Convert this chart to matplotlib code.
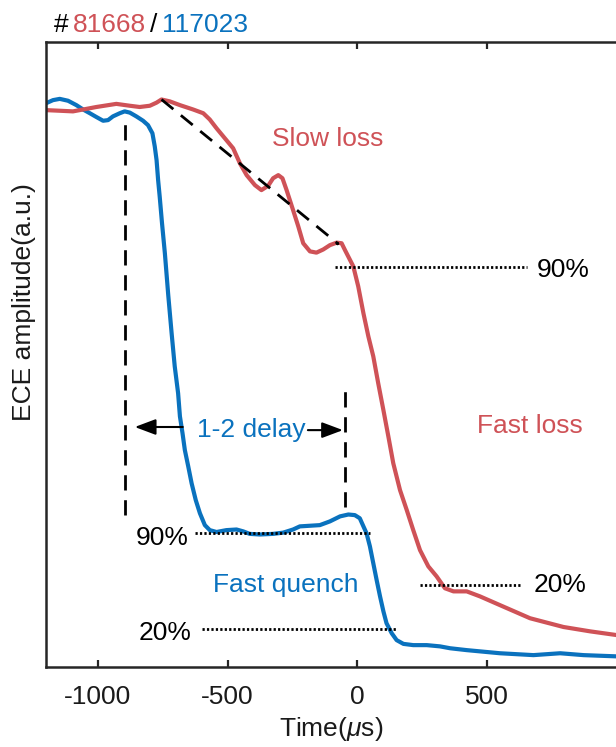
import numpy as np
import matplotlib
matplotlib.use('Agg')
import matplotlib.pyplot as plt

plt.rcParams['font.family'] = ['Liberation Sans', 'DejaVu Sans']
plt.rcParams['mathtext.fontset'] = 'custom'
plt.rcParams['mathtext.rm'] = 'Liberation Sans'
plt.rcParams['mathtext.it'] = 'Liberation Sans:italic'
plt.rcParams['axes.unicode_minus'] = False

RED = '#CF5257'
BLUE = '#0A72BE'
AX_COLOR = '#262626'
FS = 19

# shot 81668 (slow loss then fast loss)
t_red = [-1200, -1147, -1096, -1057, -1006, -929, -877, -839, -800, -774, -755,
         -723, -684, -633, -594, -569, -543, -505, -479, -453, -427, -395,
         -370, -344, -325, -305, -289, -273, -248, -228, -209, -183, -158,
         -132, -106, -80, -61, -48, -16, 3, 23, 42, 61, 80, 100, 119, 138,
         164, 190, 215, 241, 273, 305, 337, 370, 421, 472, 549, 665, 794,
         897, 1000]
v_red = [0.891, 0.890, 0.889, 0.892, 0.896, 0.901, 0.898, 0.896, 0.898, 0.903,
         0.908, 0.905, 0.899, 0.892, 0.886, 0.876, 0.862, 0.843, 0.830, 0.806,
         0.787, 0.771, 0.763, 0.770, 0.782, 0.787, 0.782, 0.763, 0.731, 0.705,
         0.678, 0.665, 0.663, 0.668, 0.675, 0.679, 0.678, 0.667, 0.641, 0.609,
         0.566, 0.529, 0.497, 0.454, 0.411, 0.369, 0.326, 0.283, 0.251, 0.219,
         0.187, 0.161, 0.145, 0.126, 0.121, 0.121, 0.113, 0.099, 0.078, 0.064,
         0.057, 0.051]

# shot 117023 (fast quench)
t_blue = [-1200, -1173, -1147, -1115, -1083, -1057, -1031, -1006, -980, -961,
          -942, -916, -897, -877, -852, -826, -807, -790, -781, -774, -768,
          -762, -753, -742, -729, -716, -704, -691, -684, -674, -665, -652,
          -639, -623, -607, -588, -569, -543, -505, -466, -440, -415, -376,
          -325, -286, -248, -222, -183, -145, -106, -67, -35, -10, 9, 23, 35,
          48, 61, 74, 87, 100, 112, 132, 151, 177, 215, 267, 318, 357, 421,
          549, 678, 781, 871, 1000]
v_blue = [0.902, 0.907, 0.909, 0.906, 0.899, 0.892, 0.886, 0.880, 0.874, 0.875,
          0.881, 0.886, 0.889, 0.887, 0.881, 0.874, 0.867, 0.854, 0.833, 0.811,
          0.779, 0.753, 0.710, 0.662, 0.595, 0.534, 0.481, 0.438, 0.401, 0.374,
          0.347, 0.321, 0.294, 0.267, 0.246, 0.227, 0.219, 0.216, 0.219, 0.220,
          0.217, 0.213, 0.212, 0.213, 0.215, 0.220, 0.225, 0.226, 0.227, 0.233,
          0.241, 0.244, 0.243, 0.238, 0.225, 0.214, 0.193, 0.166, 0.139, 0.113,
          0.089, 0.070, 0.054, 0.043, 0.037, 0.035, 0.035, 0.033, 0.030, 0.027,
          0.022, 0.019, 0.022, 0.019, 0.017]

x_ticks = [-1000, -500, 0, 500]

# slow-loss trend: from the pre-loss peak to the knee before the fast loss
slow_t = [-755, -80]
slow_v = [0.908, 0.679]

# 90% / 20% levels: (t_start, t_end, level)
red_90 = (-87, 654, 0.640)
red_20 = (241, 630, 0.131)
blue_90 = (-627, 48, 0.214)
blue_20 = (-600, 152, 0.061)

# onset markers of the two events: (t, bottom, top)
onset_1 = (-897, 0.243, 0.880)
onset_2 = (-47, 0.256, 0.456)
delay_level = 0.384

fig = plt.figure(figsize=(6.16, 7.47), dpi=100)
ax = fig.add_axes([46 / 616, 80 / 747, 571 / 616, 625 / 747])

ax.plot(t_blue, v_blue, color=BLUE, lw=3, solid_joinstyle='round')
ax.plot(t_red, v_red, color=RED, lw=3, solid_joinstyle='round')

ax.plot(slow_t, slow_v, color='k', lw=2, dashes=(5.5, 3.5))
ax.plot(slow_t[1], slow_v[1], 'k.', ms=3)

for t0, t1, lev in (red_90, red_20, blue_90, blue_20):
    ax.plot([t0, t1], [lev, lev], color='k', lw=2, linestyle=(0, (0.8, 0.8)))

for t, y0, y1 in (onset_1, onset_2):
    ax.plot([t, t], [y0, y1], color='k', lw=2, dashes=(5.5, 3.5))

arrow = dict(arrowstyle='-|>,head_length=0.8,head_width=0.3',
             color='k', lw=1.5, mutation_scale=16, shrinkA=0, shrinkB=0)
ax.annotate('', xy=(-858, delay_level), xytext=(-673, delay_level),
            arrowprops=arrow)
ax.annotate('', xy=(-56, delay_level - 0.005), xytext=(-191, delay_level - 0.005),
            arrowprops=arrow)

ax.text(-619, 0.368, '1-2 delay', color=BLUE, fontsize=FS, ha='left', va='baseline')
ax.text(-330, 0.834, 'Slow loss', color=RED, fontsize=FS, ha='left', va='baseline')
ax.text(461, 0.374, 'Fast loss', color=RED, fontsize=FS, ha='left', va='baseline')
ax.text(-557, 0.120, 'Fast quench', color=BLUE, fontsize=FS, ha='left', va='baseline')
ax.text(692, 0.624, '90%', color='k', fontsize=FS, ha='left', va='baseline')
ax.text(677, 0.120, '20%', color='k', fontsize=FS, ha='left', va='baseline')
ax.text(-650, 0.195, '90%', color='k', fontsize=FS, ha='right', va='baseline')
ax.text(-638, 0.043, '20%', color='k', fontsize=FS, ha='right', va='baseline')

ax.set_xlim(-1200, 1000)
ax.set_ylim(0, 1)
ax.set_xticks(x_ticks)
ax.set_yticks([])
ax.tick_params(axis='x', direction='in', top=True, length=5, width=1.6,
               colors=AX_COLOR, labelcolor='#1a1a1a', labelsize=FS, pad=13)
for sp in ax.spines.values():
    sp.set_color(AX_COLOR)
    sp.set_linewidth(1.8)

ax.set_xlabel(r'Time($\mu$s)', fontsize=FS, color='#1a1a1a', labelpad=4)
ax.set_ylabel('ECE amplitude(a.u.)', fontsize=FS, color='#1a1a1a')
ax.yaxis.set_label_coords(-0.017, 0.584)

# shot numbers above the frame, coloured like their curves
parts = [('#', 'k'), ('81668', RED), ('/', 'k'), ('117023', BLUE)]
prev = fig.text(54 / 616, 1 - 32 / 747, parts[0][0], color=parts[0][1],
                fontsize=FS, ha='left', va='baseline')
for s, c in parts[1:]:
    prev = ax.annotate(s, xy=(1, 0), xycoords=prev, xytext=(3, 0),
                       textcoords='offset points', color=c, fontsize=FS,
                       ha='left', va='bottom')

fig.savefig('out.png', dpi=100)
